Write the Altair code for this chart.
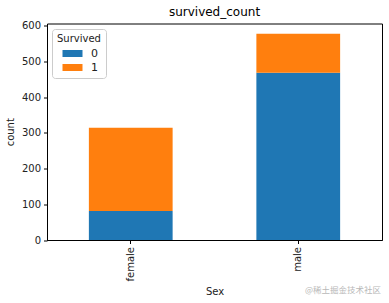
import altair as alt
import pandas as pd

sexes = ["female", "female", "male", "male"]
survived = ["0", "1", "0", "1"]
counts = [81, 233, 468, 109]

df = pd.DataFrame({"Sex": sexes, "Survived": survived, "count": counts})

W, H = 335, 216.5
FONT = "DejaVu Sans"

bars = alt.Chart(df).mark_bar(stroke=None).encode(
    x=alt.X("Sex:N", sort=["female", "male"],
            scale=alt.Scale(paddingInner=0.5, paddingOuter=0.25),
            axis=alt.Axis(labelAngle=270, title="Sex", tickSize=3.5, labelPadding=3,
                          titlePadding=6)),
    y=alt.Y("sum(count):Q", title="count",
            scale=alt.Scale(domain=[0, 605.85], nice=False),
            axis=alt.Axis(values=[0, 100, 200, 300, 400, 500, 600], tickSize=3.5,
                          labelPadding=3, titlePadding=6, grid=False)),
    color=alt.Color("Survived:N",
                    scale=alt.Scale(domain=["0", "1"], range=["#1f77b4", "#ff7f0e"]),
                    legend=alt.Legend(title="Survived", orient="none", legendX=5, legendY=5.5,
                                      symbolType="M-2.5,-0.875H2.5V0.875H-2.5Z", symbolSize=64,
                                      symbolStrokeWidth=0, fillColor="rgba(255,255,255,0.8)",
                                      strokeColor="#cccccc", cornerRadius=3, padding=5,
                                      titleFontSize=10, titleFontWeight="normal", labelFontSize=11,
                                      rowPadding=2, titlePadding=4, labelOffset=13, symbolOffset=10,
                                      titleFont=FONT, labelFont=FONT, titleColor="#222",
                                      labelColor="#222")),
    order=alt.Order("Survived:N", sort="ascending"),
)

wm = alt.Chart(pd.DataFrame({"t": ["@稀土掘金技术社区"]})).mark_text(
    font="Noto Sans CJK SC", fontSize=8.5, color="#b8b8b8", align="center", baseline="middle"
).encode(x=alt.value(296), y=alt.value(266.5), text="t:N")

chart = alt.layer(bars, wm).properties(
    width=W, height=H,
    title=alt.Title("survived_count", fontSize=12, font=FONT, fontWeight="normal", offset=2, color="#000"),
    autosize=alt.AutoSizeParams(type="none"),
    padding={"left": 47, "top": 23.5, "right": 7, "bottom": 63},
).configure_view(stroke="black", strokeWidth=1).configure_axis(
    labelFont=FONT, titleFont=FONT, labelFontSize=10, titleFontSize=10,
    titleFontWeight="normal", labelColor="#222", titleColor="#222", domainColor="black",
    tickColor="black"
)

chart.save("out.html", embed_options={"renderer": "svg", "actions": False})
